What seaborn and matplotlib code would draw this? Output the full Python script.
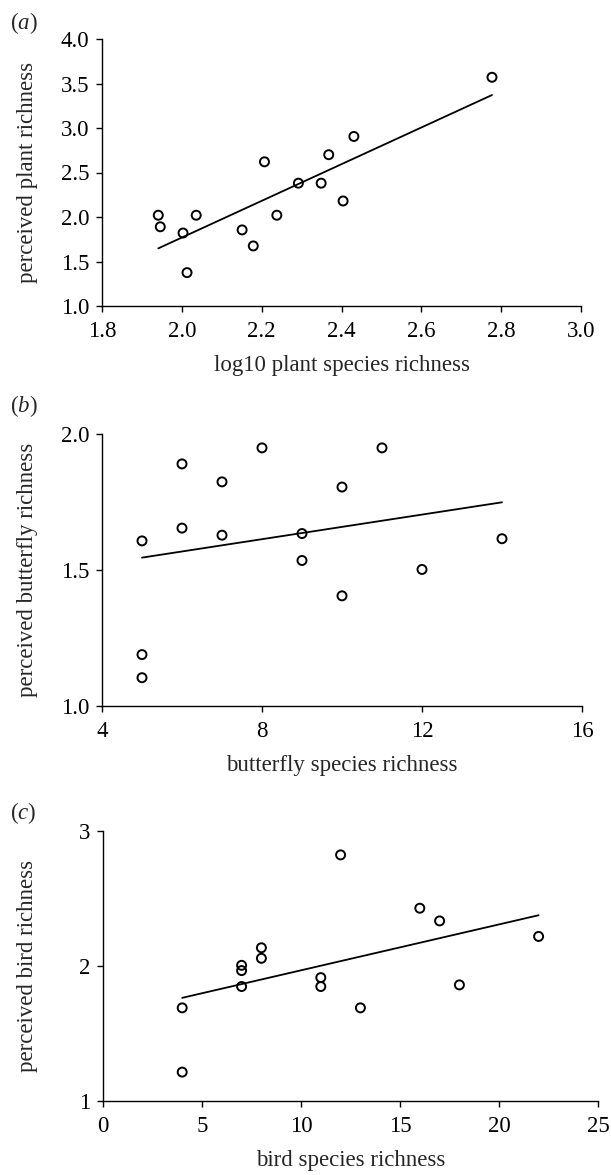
import numpy as np
import pandas as pd
import matplotlib
matplotlib.use("Agg")
import matplotlib.pyplot as plt
from matplotlib.ticker import FormatStrFormatter
import seaborn as sns

# data
plant_x = [1.941, 1.946, 2.003, 2.013, 2.036, 2.151, 2.179, 2.207, 2.238,
           2.292, 2.349, 2.368, 2.404, 2.431, 2.777]
plant_y = [2.02, 1.89, 1.82, 1.375, 2.02, 1.855, 1.675, 2.62, 2.02,
           2.38, 2.38, 2.70, 2.18, 2.905, 3.57]

butterfly_x = [5, 5, 5, 6, 6, 7, 7, 8, 9, 9, 10, 10, 11, 12, 14]
butterfly_y = [1.607, 1.189, 1.104, 1.890, 1.654, 1.824, 1.628, 1.949,
               1.634, 1.535, 1.805, 1.405, 1.949, 1.502, 1.615]

bird_x = [4, 4, 7, 7, 7, 8, 8, 11, 11, 12, 13, 16, 17, 18, 22]
bird_y = [1.69, 1.214, 2.005, 1.966, 1.848, 2.135, 2.057, 1.914, 1.848,
          2.823, 1.69, 2.428, 2.334, 1.86, 2.219]

sns.set_theme(style="ticks")
plt.rcParams['font.family'] = ['Liberation Serif', 'DejaVu Serif']
plt.rcParams['mathtext.fontset'] = 'custom'
plt.rcParams['mathtext.rm'] = 'Liberation Serif'
plt.rcParams['mathtext.it'] = 'Liberation Serif:italic'
plt.rcParams['font.size'] = 16.5
plt.rcParams['axes.labelsize'] = 16.5
plt.rcParams['xtick.labelsize'] = 16.5
plt.rcParams['ytick.labelsize'] = 16.5
plt.rcParams['axes.edgecolor'] = 'black'
plt.rcParams['axes.linewidth'] = 1.0
plt.rcParams['xtick.color'] = 'black'
plt.rcParams['ytick.color'] = 'black'

W, H = 611, 1175
fig = plt.figure(figsize=(W / 100, H / 100), dpi=100)

def px_axes(left, right, top, bottom):
    return fig.add_axes([left / W, 1 - bottom / H, (right - left) / W, (bottom - top) / H])

panels = [
    dict(x=plant_x, y=plant_y, box=(102, 581, 39, 306),
         xlim=(1.8, 3.0), ylim=(1.0, 4.0), xt=np.arange(1.8, 3.01, 0.2), yt=np.arange(1.0, 4.01, 0.5),
         fmt='%.1f', xlabel='log10 plant species richness', ylabel='perceived plant richness',
         tag='a', tag_y=10),
    dict(x=butterfly_x, y=butterfly_y, box=(102, 582, 434, 706),
         xlim=(4, 16), ylim=(1.0, 2.0), xt=[4, 8, 12, 16], yt=[1.0, 1.5, 2.0],
         fmt=None, xlabel='butterfly species richness', ylabel='perceived butterfly richness',
         tag='b', tag_y=393),
    dict(x=bird_x, y=bird_y, box=(103, 598, 831, 1101),
         xlim=(0, 25), ylim=(1, 3), xt=[0, 5, 10, 15, 20, 25], yt=[1, 2, 3],
         fmt=None, xlabel='bird species richness', ylabel='perceived bird richness',
         tag='c', tag_y=800),
]

for p in panels:
    left, right, top, bottom = p['box']
    ax = px_axes(left, right, top, bottom)
    df = pd.DataFrame({'x': p['x'], 'y': p['y']})
    sns.regplot(data=df, x='x', y='y', ax=ax, ci=None, color='black',
                scatter_kws={'facecolors': 'none', 'edgecolors': 'black',
                             's': 42, 'linewidths': 1.4, 'alpha': 1, 'zorder': 3},
                line_kws={'color': 'black', 'lw': 1.3})
    ax.set_xlim(*p['xlim'])
    ax.set_ylim(*p['ylim'])
    ax.set_xticks(p['xt'])
    ax.set_yticks(p['yt'])
    if p['fmt']:
        ax.xaxis.set_major_formatter(FormatStrFormatter(p['fmt']))
        ax.yaxis.set_major_formatter(FormatStrFormatter(p['fmt']))
    elif p['tag'] == 'b':
        ax.yaxis.set_major_formatter(FormatStrFormatter('%.1f'))
    ax.tick_params(direction='out', length=4, width=1.0)
    ax.tick_params(axis='x', pad=7)
    ax.tick_params(axis='y', pad=5)
    sns.despine(ax=ax)
    ax.set_xlabel(p['xlabel'], labelpad=9)
    ax.set_ylabel(p['ylabel'])
    # y labels of all panels sit on one vertical line
    ax.yaxis.label.set_verticalalignment('center')
    ax.yaxis.set_label_coords((28 - left) / (right - left), 0.5)
    ax.patch.set_visible(False)
    fig.text(10 / W, 1 - p['tag_y'] / H, r'($\mathit{%s}$)' % p['tag'],
             ha='left', va='top', fontsize=16.5)

fig.savefig('out.png', dpi=100)
